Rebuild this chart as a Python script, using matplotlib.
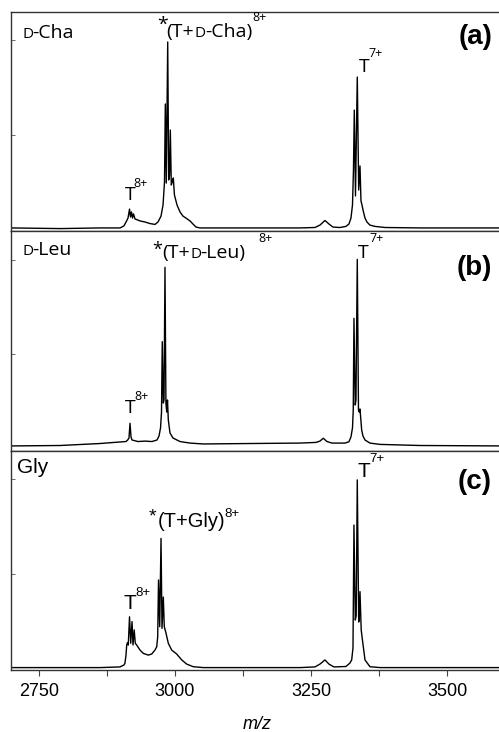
import numpy as np
import matplotlib.pyplot as plt

# spectra (m/z, relative intensity in % of panel height)
mz_a = [2700, 2788.6, 2862, 2899, 2906, 2910, 2913.6, 2916.4, 2918.2, 2920, 2921.9, 2923.7,
        2926.5, 2935.7, 2944.9, 2954, 2963.2, 2968.7, 2974.3, 2978, 2980.7, 2982.2, 2984,
        2986.6, 2988.4, 2989.9, 2991.4, 2993.2, 2995, 2996.9, 2999, 3003.7, 3009.2, 3014.7,
        3020.2, 3027.6, 3033, 3038.6, 3046, 3137.9, 3229.8, 3257.3, 3266.5, 3275.7, 3283,
        3290.4, 3303.3, 3314.3, 3319.8, 3323.5, 3326.3, 3328.1, 3329.6, 3331.8, 3335.1,
        3337.7, 3340.1, 3341.9, 3343.8, 3345.6, 3349.3, 3352.9, 3358.4, 3367.6, 3386,
        3450.4, 3603]
int_a = [1.4, 1.1, 1.4, 1.4, 2.3, 4.1, 5.9, 10.0, 6.4, 8.7, 5.9, 7.8,
         5.5, 4.6, 4.1, 3.4, 3.0, 4.1, 6.8, 11.9, 22.4, 58.0, 21.9,
         86.3, 23.3, 25.6, 46.1, 21.0, 22.4, 24.2, 16.4, 11.9, 8.7, 6.8,
         5.9, 4.6, 3.2, 1.8, 1.4, 1.4, 1.4, 1.6, 2.7, 4.8, 3.2,
         1.8, 1.6, 2.1, 3.2, 5.9, 11.9, 27.9, 55.2, 16.0, 70.3,
         18.7, 29.7, 13.7, 11.9, 9.6, 5.9, 4.1, 2.7, 2.1, 1.6,
         1.4, 1.4]

mz_b = [2700, 2788.6, 2862.1, 2898.9, 2909.9, 2913, 2915.4, 2917.3, 2919.1, 2921, 2932,
        2944.9, 2957.7, 2966.9, 2970.6, 2973.4, 2975.2, 2976.6, 2978.5, 2979.8, 2981.6,
        2983.3, 2984.8, 2986.2, 2987.7, 2990.8, 2996.3, 3009.2, 3027.6, 3051.5, 3137.9,
        3229.8, 3259.2, 3266.5, 3272.6, 3279.4, 3288.6, 3312.5, 3319.8, 3323.5, 3326.3,
        3327.7, 3329, 3331.3, 3332.7, 3335.1, 3337.3, 3338.8, 3340.1, 3343.2, 3345.6,
        3349.3, 3358.4, 3376.8, 3450.4, 3603]
int_b = [2.3, 2.5, 3.4, 4.1, 4.3, 5.0, 5.9, 12.6, 6.4, 5.0, 4.3,
         4.5, 4.3, 5.0, 6.8, 10.5, 17.7, 49.7, 21.8, 23.2, 83.5,
         21.8, 17.7, 23.2, 14.1, 8.2, 5.9, 4.3, 3.6, 3.2, 3.4,
         3.6, 3.9, 4.5, 5.8, 4.3, 3.6, 3.6, 4.2, 6.4, 10.5,
         18.6, 60.3, 20.9, 23.2, 87.1, 18.6, 17.7, 19.1, 9.5, 6.8,
         5.0, 3.6, 3.0, 2.5, 2.3]

mz_c = [2700, 2862.1, 2898.9, 2906.2, 2908, 2909.9, 2911.2, 2912.6, 2914.1, 2916.4, 2918.6,
        2921, 2922.8, 2925, 2927, 2929.6, 2935.7, 2941.7, 2950.9, 2957.2, 2963.2, 2966.4,
        2968.2, 2969.7, 2971.9, 2974.3, 2976.1, 2978.5, 2980.3, 2983.5, 2987.7, 2993.9,
        3003.1, 3012.3, 3021.5, 3033.6, 3052, 3229.8, 3257.3, 3266.5, 3275.7, 3283,
        3292.2, 3314.3, 3321.7, 3324.8, 3327.2, 3329, 3331.4, 3333.1, 3335.1, 3337.7,
        3338.8, 3340.1, 3342.3, 3345, 3346.5, 3349.3, 3358.4, 3376.8, 3603]
int_c = [1.1, 1.1, 1.4, 2.3, 3.1, 6.8, 11.4, 12.5, 11.4, 24.3, 12.2,
         22.1, 11.4, 18.3, 12.2, 11.4, 9.1, 7.6, 6.8, 7.3, 9.1, 10.6,
         15.2, 41.1, 19.8, 60.1, 19.0, 33.3, 19.8, 16.8, 12.2, 9.1,
         7.3, 4.6, 2.7, 1.5, 1.1, 1.1, 1.4, 2.7, 4.6, 2.7,
         1.4, 1.6, 3.2, 4.6, 10.0, 66.2, 22.8, 24.7, 86.8, 21.9,
         23.7, 35.8, 18.3, 12.9, 10.0, 4.6, 1.5, 1.1, 1.1]

xticks = [2750, 3000, 3250, 3500]
xminor = [2875, 3125, 3375]

W, H = 499, 732
fig = plt.figure(figsize=(W / 100, H / 100), dpi=100)

# panel frames in pixels (top, bottom)
frames = [(12, 231), (231, 451), (451, 670)]
series = [(mz_a, int_a), (mz_b, int_b), (mz_c, int_c)]
axes = []
for (top, bot), (mz, inten) in zip(frames, series):
    ax = fig.add_axes([11 / W, 1 - bot / H, 492 / W, (bot - top) / H])
    ax.plot(mz, inten, color='black', lw=1.0)
    ax.set_xlim(2698.5, 3603)
    ax.set_ylim(0, 100)
    ax.set_xticks(xticks)
    ax.set_xticks(xminor, minor=True)
    ax.set_yticks([44, 87])
    ax.tick_params(axis='y', direction='in', length=3, width=0.6, labelleft=False, color='#555555')
    ax.tick_params(axis='x', which='both', direction='out', length=4, width=0.8, color='#444444')
    ax.spines['right'].set_visible(False)
    for s in ['left', 'top', 'bottom']:
        ax.spines[s].set_color('#333333')
        ax.spines[s].set_linewidth(1.0)
    axes.append(ax)

for ax in axes[:2]:
    ax.tick_params(axis='x', labelbottom=False)

axes[2].set_xticklabels([str(t) for t in xticks], fontfamily='Liberation Sans', fontsize=13)
axes[2].tick_params(axis='x', pad=5)
axes[2].set_xlabel('m/z', fontfamily='Liberation Sans', fontstyle='italic', fontsize=13, labelpad=12)


def put(x, y, s, size, family='Open Sans', va='baseline', **kw):
    fig.text(x / W, 1 - y / H, s, fontsize=size, family=family, va=va, **kw)


# (a) D-Cha
put(22, 38, 'D', 11)
put(32, 38, '-Cha', 14)
put(157, 16, '*', 14, va='top')
put(166.5, 37, '(T+', 14)
put(194.5, 37, 'D', 11)
put(205, 37, '-Cha)', 14)
put(252, 21, '8+', 9)
put(125, 200, 'T', 14)
put(133.5, 187, '8+', 9)
put(358.5, 72, 'T', 14)
put(368, 57, '7+', 9)
fig.text(492 / W, 1 - 37.5 / H, '(a)', fontsize=20, family='Liberation Sans',
         fontweight='bold', ha='right', va='center')

# (b) D-Leu
put(22, 255, 'D', 11)
put(32, 255, '-Leu', 14)
put(152, 241, '*', 13, va='top')
put(162, 258, '(T+', 14)
put(190, 258, 'D', 11)
put(200.5, 258, '-Leu)', 14)
put(258, 242, '8+', 9)
put(125, 413, 'T', 14)
put(134.5, 400, '8+', 9)
put(358, 258, 'T', 14)
put(369, 242, '7+', 9)
fig.text(492 / W, 1 - 267.5 / H, '(b)', fontsize=20, family='Liberation Sans',
         fontweight='bold', ha='right', va='center')

# (c) Gly
put(17, 473, 'Gly', 15, family='Liberation Sans')
put(149, 508, '*', 14, family='Liberation Sans', va='top')
put(157.5, 527, '(T+Gly)', 14.5, family='Liberation Sans')
put(224.5, 517, '8+', 9.5, family='Liberation Sans')
put(123, 609, 'T', 15, family='Liberation Sans')
put(135, 596, '8+', 9.5, family='Liberation Sans')
put(357.5, 477, 'T', 15, family='Liberation Sans')
put(369, 462, '7+', 9.5, family='Liberation Sans')
fig.text(492 / W, 1 - 482 / H, '(c)', fontsize=20, family='Liberation Sans',
         fontweight='bold', ha='right', va='center')

fig.savefig('out.png', dpi=100)
